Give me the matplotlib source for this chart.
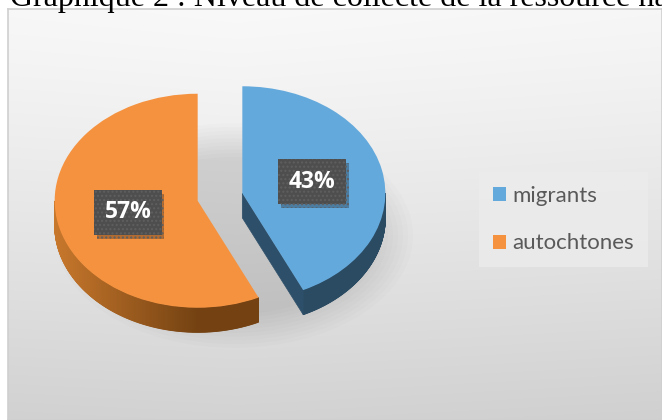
import numpy as np
import matplotlib
matplotlib.use("Agg")
import matplotlib.pyplot as plt
from matplotlib.patches import Polygon, Ellipse
import matplotlib.patheffects as pe

# ---- data ----
categories = ["migrants", "autochtones"]
values = [43, 57]
colors_top = ["#64a9dc", "#f5923f"]
title = "Graphique 2 : Niveau de collecte de la ressource halieutique"

W, H = 662, 420
fig = plt.figure(figsize=(W / 100, H / 100), dpi=100)
fig.patch.set_facecolor("white")

# title (partly cut at top, as in the reference)
fig.text(10 / W, 1 - 6 / H, title, family="Liberation Serif", fontsize=23,
         color="black", va="baseline", ha="left")

# chart area background with gradient
bg = fig.add_axes([8 / W, 0, 1 - 8 / W, 1 - 9 / H])
yy = np.linspace(0, 1, 300)[:, None]
xx = np.linspace(0, 1, 300)[None, :]
grad = 0.975 - 0.15 * yy ** 1.2 - 0.015 * np.abs(xx - 0.35)
bg.imshow(np.dstack([grad] * 3), aspect="auto", extent=[0, 1, 0, 1], origin="upper")
bg.set_xticks([]); bg.set_yticks([])
for s in bg.spines.values():
    s.set_color("#cfcfcf"); s.set_linewidth(1.2)

# pie axes (flattened to fake perspective)
cx_px, cy_px, rx, ry = 220, 197, 143, 107
L = 1.5
ax = fig.add_axes([(cx_px - L * rx) / W, (H - (cy_px + L * ry)) / H,
                   2 * L * rx / W, 2 * L * ry / H])
ax.patch.set_visible(False)

wedges, texts, autotexts = ax.pie(
    values, startangle=90, counterclock=False, explode=[0.16, 0.16],
    colors=colors_top, autopct="%1.0f%%", pctdistance=0.5, radius=1,
    wedgeprops=dict(linewidth=0),
    textprops=dict(color="white", fontsize=16.5, fontweight="bold", family="Open Sans"))
ax.set_aspect("auto")
ax.set_xlim(-L, L); ax.set_ylim(-L, L)
ax.axis("off")

depth = 0.23

# soft shadow
for k in range(10):
    e = Ellipse((0.1, -0.36), 2.5 - 0.07 * k, 2.1 - 0.07 * k, color="black",
                alpha=0.013, lw=0, zorder=0)
    ax.add_patch(e)

rim_light = {0: np.array([0x2e, 0x53, 0x6f]) / 255, 1: np.array([0xc8, 0x78, 0x2c]) / 255}
rim_dark = {0: np.array([0x2b, 0x4b, 0x63]) / 255, 1: np.array([0x74, 0x42, 0x12]) / 255}
face_col = {0: "#2d4f69", 1: "#8a5018"}

for i, w in enumerate(wedges):
    w.set_zorder(3)
    c = np.array(w.center); r = w.r
    t1, t2 = w.theta1, w.theta2
    ts = np.linspace(t1, t2, 600)
    for a, b in zip(ts[:-1], ts[1:]):
        m = np.radians((a + b) / 2)
        if np.sin(m) > 0:
            continue
        f = np.clip(-np.cos(m), 0, 1)
        col = rim_dark[i] + (rim_light[i] - rim_dark[i]) * f
        pa = c + r * np.array([np.cos(np.radians(a)), np.sin(np.radians(a))])
        pb = c + r * np.array([np.cos(np.radians(b)), np.sin(np.radians(b))])
        poly = Polygon([pa, pb, pb - [0, depth], pa - [0, depth]], closed=True,
                       facecolor=col, edgecolor=col, lw=0.6, zorder=1)
        ax.add_patch(poly)
    # radial faces
    for t, nrm in ((t1, t1 - 90), (t2, t2 + 90)):
        if np.sin(np.radians(nrm)) < -1e-6:
            p = c + r * np.array([np.cos(np.radians(t)), np.sin(np.radians(t))])
            poly = Polygon([c, p, p - [0, depth], c - [0, depth]], closed=True,
                           facecolor=face_col[i], edgecolor=face_col[i], lw=0.5, zorder=2)
            ax.add_patch(poly)

for t in autotexts:
    t.set_zorder(6)
    t.set_bbox(dict(boxstyle="square,pad=0.45", facecolor="#4e4e4e",
                    edgecolor="#5f5f5f", linewidth=0, hatch="...."))
    t.get_bbox_patch().set_path_effects(
        [pe.SimplePatchShadow(offset=(2, -3), alpha=0.3), pe.Normal()])

leg = fig.legend(wedges, categories, loc="center left",
                 bbox_to_anchor=(479 / W, 1 - 219.5 / H), frameon=True,
                 prop=dict(family="Lato", size=16), labelcolor="#595959",
                 handlelength=0.6, handleheight=0.6, handletextpad=0.28,
                 labelspacing=1.25, borderpad=0.62, borderaxespad=0,
                 fancybox=False)
leg.get_frame().set_facecolor("#ececec")
leg.get_frame().set_edgecolor("none")

fig.savefig("out.png", dpi=100)
